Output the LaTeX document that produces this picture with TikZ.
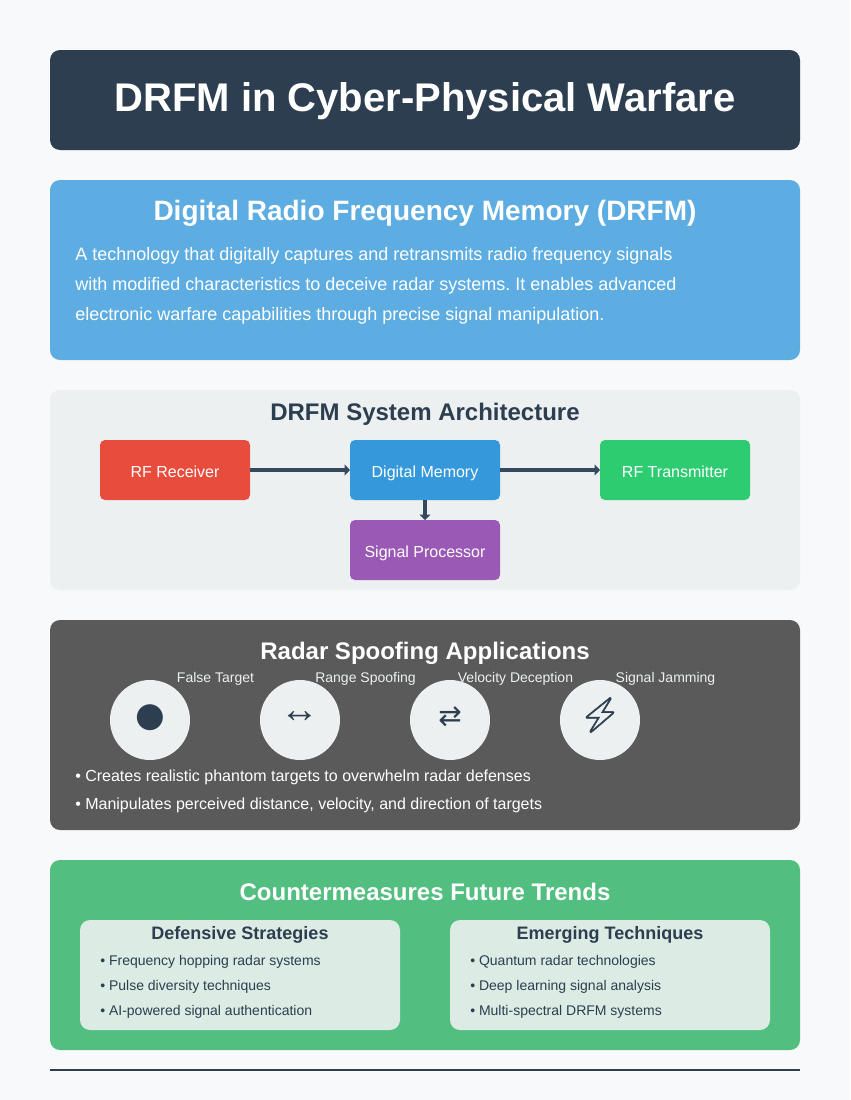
\documentclass[tikz,border=0pt]{standalone}
\usepackage{fontspec}
\setmainfont{Liberation Sans}
\newfontfamily\symfont{DejaVu Sans}
\newfontfamily\emojifont[FakeBold=1.2]{Noto Emoji}
\usepackage{xcolor}
\usetikzlibrary{arrows.meta, positioning}
\frenchspacing
\definecolor{pagebg}{HTML}{F8F9FA}
\definecolor{navy}{HTML}{2C3E50}
\definecolor{skypanel}{HTML}{5DADE2}
\definecolor{greypanel}{HTML}{ECF0F1}
\definecolor{darkpanel}{HTML}{5A5A5A}
\definecolor{greenpanel}{HTML}{52BE80}
\definecolor{innerpanel}{HTML}{DCEBE3}
\definecolor{wire}{HTML}{34495E}
\definecolor{redblock}{HTML}{E74C3C}
\definecolor{blueblock}{HTML}{3498DB}
\definecolor{greenblock}{HTML}{2ECC71}
\definecolor{purpleblock}{HTML}{9B59B6}
\def\px{0.75pt}
\tikzstyle{panel} = [rectangle, rounded corners=7.5pt, inner sep=0pt, outer sep=0pt, minimum width=750*\px]
\tikzstyle{subpanel} = [rectangle, rounded corners=7.5pt, fill=innerpanel, inner sep=0pt, outer sep=0pt, minimum width=320*\px, minimum height=110*\px]
\tikzstyle{block} = [rectangle, rounded corners=3.75pt, inner sep=0pt, outer sep=0pt, minimum width=150*\px, minimum height=60*\px, text=white, text height=10.6pt, text depth=0pt, font=\fontsize{12}{14}\selectfont]
\tikzstyle{disc} = [circle, fill=greypanel, inner sep=0pt, outer sep=0pt, minimum size=80*\px]
\tikzstyle{glyph} = [inner sep=0pt, text=navy]
\tikzstyle{heading} = [anchor=base, inner sep=0pt, font=\fontsize{18}{22}\selectfont\bfseries]
\tikzstyle{para} = [anchor=base west, inner sep=0pt, text=white, font=\fontsize{13.5}{16}\selectfont]
\tikzstyle{applabel} = [anchor=base, inner sep=0pt, text=greypanel, font=\fontsize{10.5}{13}\selectfont]
\tikzstyle{point} = [anchor=base west, inner sep=0pt, text=navy, font=\fontsize{10.5}{13}\selectfont]
\tikzstyle{arrow} = [draw=wire, line width=3.5*\px, -{Triangle[length=5.5*\px, width=11*\px]}]
\begin{document}
\begin{tikzpicture}[x=0.75pt, y=-0.75pt]
    \useasboundingbox (0,0) rectangle (850,1100);
    \fill [pagebg] (0,0) rectangle (850,1100);

    % title
    \node (titlebar) [panel, fill=navy, minimum height=100*\px] at (425,100) {};
    \node (title) [heading, text=white, font=\fontsize{30}{36}\selectfont\bfseries] at (425,111) {DRFM in Cyber-Physical Warfare};

    % definition
    \node (defbar) [panel, fill=skypanel, minimum height=180*\px] at (425,270) {};
    \node (defhead) [heading, text=white, font=\fontsize{21}{25}\selectfont\bfseries] at (425,220) {Digital Radio Frequency Memory (DRFM)};
    \node (defa) [para] at (75,260) {A technology that digitally captures and retransmits radio frequency signals};
    \node (defb) [para] at (75,290) {with modified characteristics to deceive radar systems. It enables advanced};
    \node (defc) [para] at (75,320) {electronic warfare capabilities through precise signal manipulation.};

    % architecture
    \node (archbar) [panel, fill=greypanel, minimum height=200*\px] at (425,490) {};
    \node (archhead) [heading, text=navy] at (425,420) {DRFM System Architecture};
    \node (receiver) [block, fill=redblock] at (175,470) {RF Receiver};
    \node (memory) [block, fill=blueblock] at (425,470) {Digital Memory};
    \node (transmitter) [block, fill=greenblock] at (675,470) {RF Transmitter};
    \node (processor) [block, fill=purpleblock] at (425,550) {Signal Processor};
    \draw [arrow] (receiver) -- (memory);
    \draw [arrow] (memory) -- (transmitter);
    \draw [arrow] (memory) -- (processor);

    % radar spoofing
    \node (radarbar) [panel, fill=darkpanel, minimum height=210*\px] at (425,725) {};
    \node (radarhead) [heading, text=white] at (425,659) {Radar Spoofing Applications};
    \node (falsedisc) [disc] at (150,720) {};
    \node (rangedisc) [disc] at (300,720) {};
    \node (veldisc) [disc] at (450,720) {};
    \node (jamdisc) [disc] at (600,720) {};
    \node (falseicon) [glyph, font=\symfont\fontsize{25.5}{27}\selectfont] at (150,717.5) {●};
    \node (rangeicon) [glyph, font=\fontsize{29}{29}\selectfont] at (300,717) {↔};
    \node (velicon) [glyph, font=\symfont\fontsize{21}{24}\selectfont] at (450,717) {⇄};
    \node (jamicon) [glyph, font=\emojifont\fontsize{26}{27}\selectfont] at (600,715) {⚡};
    \node (falselabel) [applabel] at (215.5,682) {False Target};
    \node (rangelabel) [applabel] at (365.5,682) {Range Spoofing};
    \node (vellabel) [applabel] at (515.5,682) {Velocity Deception};
    \node (jamlabel) [applabel] at (665.5,682) {Signal Jamming};
    \node (radara) [para, font=\fontsize{12}{14}\selectfont] at (75,781) {• Creates realistic phantom targets to overwhelm radar defenses};
    \node (radarb) [para, font=\fontsize{12}{14}\selectfont] at (75,809) {• Manipulates perceived distance, velocity, and direction of targets};

    % countermeasures
    \node (counterbar) [panel, fill=greenpanel, minimum height=190*\px] at (425,955) {};
    \node (counterhead) [heading, text=white] at (425,900) {Countermeasures Future Trends};
    \node (defbox) [subpanel] at (240,975) {};
    \node (emergebox) [subpanel] at (610,975) {};
    \node (defname) [heading, text=navy, font=\fontsize{13.5}{16}\selectfont\bfseries] at (240,939) {Defensive Strategies};
    \node (emergename) [heading, text=navy, font=\fontsize{13.5}{16}\selectfont\bfseries] at (610,939) {Emerging Techniques};
    \node (defa2) [point] at (100,965) {• Frequency hopping radar systems};
    \node (defb2) [point] at (100,990) {• Pulse diversity techniques};
    \node (defc2) [point] at (100,1015) {• AI-powered signal authentication};
    \node (emergea) [point] at (470,965) {• Quantum radar technologies};
    \node (emergeb) [point] at (470,990) {• Deep learning signal analysis};
    \node (emergec) [point] at (470,1015) {• Multi-spectral DRFM systems};

    % footer rule
    \coordinate (rulea) at (50,1070);
    \coordinate (ruleb) at (800,1070);
    \draw [navy, line width=2*\px] (rulea) -- (ruleb);
\end{tikzpicture}
\end{document}
